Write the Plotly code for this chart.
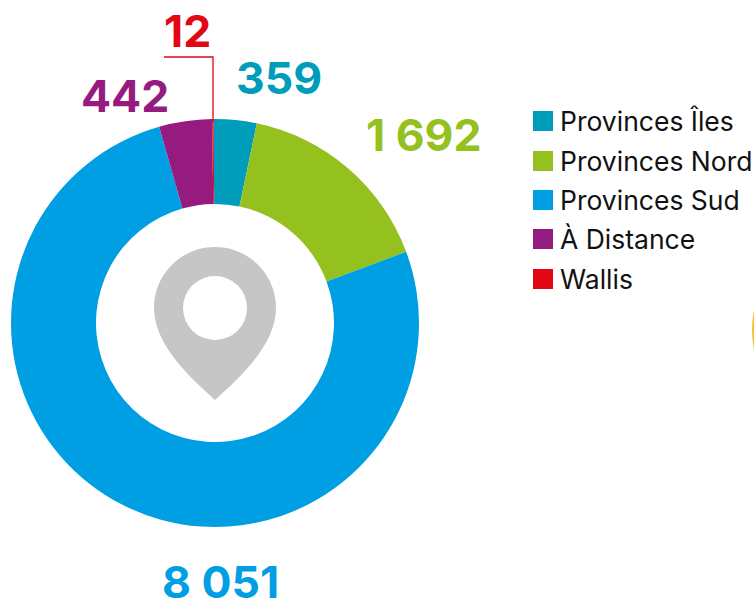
import plotly.graph_objects as go

categories = ["Provinces Îles", "Provinces Nord", "Provinces Sud", "À Distance", "Wallis"]
values = [359, 1692, 8051, 442, 12]
value_labels = ["359", "1 692", "8 051", "442", "12"]
colors = ["#009DBB", "#95C11F", "#009FE3", "#951B81", "#E30613"]

W, H = 754, 603
FONT = "Inter"


def px(x):
    return x / W


def py(y):
    return 1 - y / H


label_centers = [(279, 78), (424, 135), (220.5, 582), (125, 96), (187.5, 31)]

fig = go.Figure(
    go.Pie(
        labels=categories,
        values=values,
        marker=dict(colors=colors, line=dict(width=0)),
        hole=119 / 204,
        sort=False,
        direction="clockwise",
        rotation=-0.4,
        textinfo="none",
        hoverinfo="label+value",
        showlegend=False,
        domain=dict(x=[px(11), px(419)], y=[py(527), py(119)]),
    )
)

annotations = []
for (cx, cy), text, color in zip(label_centers, value_labels, colors):
    annotations.append(
        dict(
            x=px(cx), y=py(cy), xref="paper", yref="paper", text=text, showarrow=False,
            xanchor="center", yanchor="middle", height=38, borderpad=0,
            font=dict(family=FONT, size=44.5, color=color, weight=700),
        )
    )

shapes = []
legend_y = [121, 161, 200, 239, 279]
for name, color, ly in zip(categories, colors, legend_y):
    shapes.append(
        dict(type="rect", xref="paper", yref="paper", x0=px(533), x1=px(553), y0=py(ly + 10), y1=py(ly - 10),
             fillcolor=color, line=dict(width=0))
    )
    annotations.append(
        dict(
            x=px(558), y=py(ly), xref="paper", yref="paper", text=name, showarrow=False,
            xanchor="left", yanchor="middle",
            font=dict(family=FONT, size=26.5, color="#111111"),
        )
    )

# connector for the small Wallis slice
shapes.append(
    dict(
        type="path", xref="paper", yref="paper",
        path=f"M {px(164)} {py(57)} L {px(213)} {py(57)} L {px(213)} {py(122)}",
        line=dict(color=colors[4], width=1.3),
    )
)

# pin pictogram: outer drop with a white centre
k = 0.5523
cx, cy, r = 215, 308, 61
tip = 400
pin = (
    f"M {px(cx)} {py(cy - r)} "
    f"C {px(cx + k * r)} {py(cy - r)} {px(cx + r)} {py(cy - k * r)} {px(cx + r)} {py(cy)} "
    f"C {px(cx + r)} {py(cy + 38)} {px(cx + 22)} {py(tip - 20)} {px(cx)} {py(tip)} "
    f"C {px(cx - 22)} {py(tip - 20)} {px(cx - r)} {py(cy + 38)} {px(cx - r)} {py(cy)} "
    f"C {px(cx - r)} {py(cy - k * r)} {px(cx - k * r)} {py(cy - r)} {px(cx)} {py(cy - r)} Z"
)
shapes.append(dict(type="path", xref="paper", yref="paper", path=pin, fillcolor="#C6C6C6", line=dict(width=0)))
shapes.append(
    dict(type="circle", xref="paper", yref="paper", x0=px(cx - 32), x1=px(cx + 32), y0=py(cy + 32), y1=py(cy - 32),
         fillcolor="white", line=dict(width=0))
)

# sliver of a cropped mark at the right edge of the reference
shapes.append(
    dict(
        type="path", xref="paper", yref="paper",
        path=f"M {px(754)} {py(310)} Q {px(750)} {py(330)} {px(754)} {py(350)} Z",
        fillcolor="#F9BE2C", line=dict(width=0),
    )
)

fig.update_layout(
    width=W, height=H,
    margin=dict(l=0, r=0, t=0, b=0),
    paper_bgcolor="white",
    plot_bgcolor="white",
    showlegend=False,
    annotations=annotations,
    shapes=shapes,
)
fig.write_html(
    "out.html",
    config=dict(displayModeBar=False),
    post_script="document.body.style.margin='0';document.body.style.overflow='hidden';",
)
